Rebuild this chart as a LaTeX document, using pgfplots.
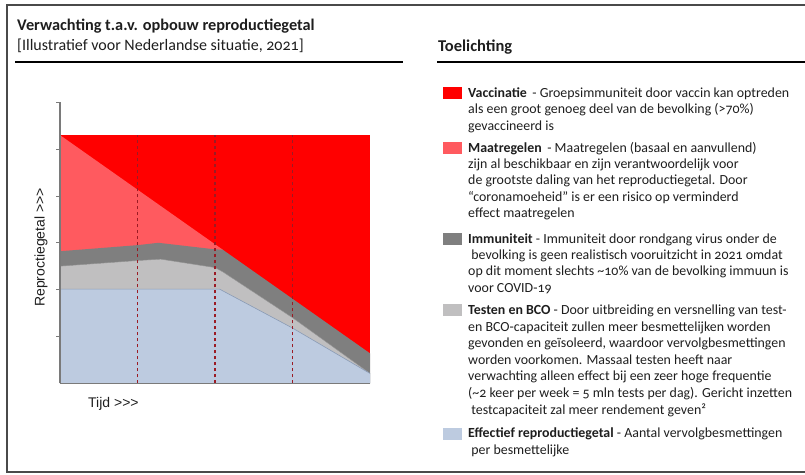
\documentclass[border=0pt]{standalone}
\usepackage{pgfplots}
\pgfplotsset{compat=1.18}
\usepackage{fontspec}
\setmainfont[Numbers=OldStyle]{Carlito}
\newfontfamily\arial{Liberation Sans}
\definecolor{cVac}{HTML}{FF0000}
\definecolor{cMaat}{HTML}{FF5A5F}
\definecolor{cImm}{HTML}{7F7F7F}
\definecolor{cTest}{HTML}{C0BFC0}
\definecolor{cEff}{HTML}{BDCBE0}
\definecolor{cEffLine}{HTML}{8A9BB5}
\definecolor{cDash}{HTML}{9B1B24}
\definecolor{cTxt}{HTML}{1E1E1E}
\definecolor{cAx}{HTML}{7A7A7A}
\definecolor{cFrame}{HTML}{4A4A4A}
\newcommand{\Ln}[2]{\node[anchor=base west, inner sep=0pt, text=cTxt, font=\fontsize{13.9}{16}\selectfont] at (468,#1) {#2};}
\begin{document}
\begin{tikzpicture}
\path[use as bounding box] (0,0) rectangle (805pt,-474pt);
\begin{axis}[at={(60pt,-383.3pt)}, anchor=south west, scale only axis,
  width=310pt, height=281pt, xmin=0, xmax=4, ymin=0, ymax=6,
  axis x line*=bottom, axis y line*=left,
  xtick=\empty, ytick={1,2,3,4,5,6}, yticklabels={},
  tick align=outside, major tick length=4pt,
  every tick/.style={color=cAx, line width=0.8pt},
  axis line style={color=cAx, line width=1.3pt},
  axis on top]
\addplot[fill=cVac, draw=none] coordinates {(0,5.30) (4,5.30)} \closedcycle;
\addplot[fill=cMaat, draw=none] coordinates {(0,5.30) (2.1,2.853)} \closedcycle;
\addplot[fill=cImm, draw=none] coordinates {(0,2.82) (1,2.95) (1.27,3.00) (2,2.86) (2.1,2.853) (3,1.805) (4,0.64)} \closedcycle;
\addplot[fill=cTest, draw=none] coordinates {(0,2.50) (1,2.62) (1.3,2.65) (2,2.47) (2.1,2.38) (3,1.40) (4,0.21)} \closedcycle;
\addplot[color=gray!85, line width=0.4pt] coordinates {(0,2.50) (1,2.62) (1.3,2.65) (2,2.47) (2.1,2.38) (3,1.40) (4,0.21)};
\addplot[fill=cEff, draw=none] coordinates {(0,2.01) (2.06,2.01) (3,1.18) (4,0.21)} \closedcycle;
\addplot[color=cEffLine, line width=0.6pt] coordinates {(0,2.01) (2.06,2.01) (3,1.18) (4,0.21)};
\addplot[color=cDash, line width=1.1pt, dash pattern=on 3.5pt off 2.5pt] coordinates {(1,0) (1,5.30)};
\addplot[color=cDash, line width=1.1pt, dash pattern=on 3.5pt off 2.5pt] coordinates {(2,0) (2,5.30)};
\addplot[color=cDash, line width=1.1pt, dash pattern=on 3.5pt off 2.5pt] coordinates {(3,0) (3,5.30)};
\end{axis}
\begin{scope}[x=1pt, y=-1pt]
\draw[cFrame, line width=1.5pt] (806,5) -- (7,5) -- (7,472) -- (806,472);
\node[anchor=base west, inner sep=0pt, text=cTxt, font=\bfseries\fontsize{16.3}{18}\selectfont] at (17,30.5) {Verwachting t.a.v. opbouw reproductiegetal};
\node[anchor=base west, inner sep=0pt, text=cTxt, font=\fontsize{16}{18}\selectfont] at (17,50.5) {[Illustratief voor Nederlandse situatie, 2021]};
\draw[black, line width=1.2pt] (15,62) -- (403,62);
\node[anchor=base west, inner sep=0pt, text=cTxt, font=\bfseries\fontsize{16.5}{18}\selectfont] at (438,51) {Toelichting};
\draw[black, line width=1.2pt] (437,62) -- (805,62);
\node[rotate=90, inner sep=0pt, text=cTxt, font=\arial\fontsize{14}{16}\selectfont] at (41,247.5) {Reproctiegetal >>>};
\node[anchor=west, inner sep=0pt, text=cTxt, font=\arial\fontsize{14}{16}\selectfont] at (88,404) {Tijd >>>};
% legend squares
\fill[cVac] (443,86.5) rectangle (462,98.5);
\fill[cMaat] (443,141.5) rectangle (462,153.5);
\fill[cImm] (443,232.5) rectangle (462,244.5);
\fill[cTest] (443,304) rectangle (462,316);
\fill[cEff] (443,427.5) rectangle (462,439.5);
% item 1
\Ln{97.5}{\textbf{Vaccinatie} \,- Groepsimmuniteit door vaccin kan optreden}
\Ln{113.9}{als een groot genoeg deel van de bevolking (>70\%)}
\Ln{130.3}{gevaccineerd is}
% item 2
\Ln{152}{\textbf{Maatregelen} \,- Maatregelen (basaal en aanvullend)}
\Ln{168.4}{zijn al beschikbaar en zijn verantwoordelijk voor}
\Ln{184.8}{de grootste daling van het reproductiegetal. Door}
\Ln{201.2}{“coronamoeheid” is er een risico op verminderd}
\Ln{217.6}{effect maatregelen}
% item 3
\Ln{243}{\textbf{Immuniteit} - Immuniteit door rondgang virus onder de}
\Ln{259.4}{\ bevolking is geen realistisch vooruitzicht in 2021 omdat}
\Ln{275.8}{op dit moment slechts \textasciitilde10\% van de bevolking immuun is}
\Ln{292.2}{voor COVID-19}
% item 4
\Ln{314.5}{\textbf{Testen en BCO} - Door uitbreiding en versnelling van test-}
\Ln{331.1}{en BCO-capaciteit zullen meer besmettelijken worden}
\Ln{347.7}{gevonden en geïsoleerd, waardoor vervolgbesmettingen}
\Ln{364.3}{worden voorkomen. Massaal testen heeft naar}
\Ln{380.9}{verwachting alleen effect bij een zeer hoge frequentie}
\Ln{397.5}{(\textasciitilde2 keer per week = 5 mln tests per dag). Gericht inzetten}
\Ln{414.1}{\ testcapaciteit zal meer rendement geven²}
% item 5
\Ln{437.8}{\textbf{Effectief reproductiegetal} - Aantal vervolgbesmettingen}
\Ln{454.2}{\ per besmettelijke}
\end{scope}
\end{tikzpicture}
\end{document}
